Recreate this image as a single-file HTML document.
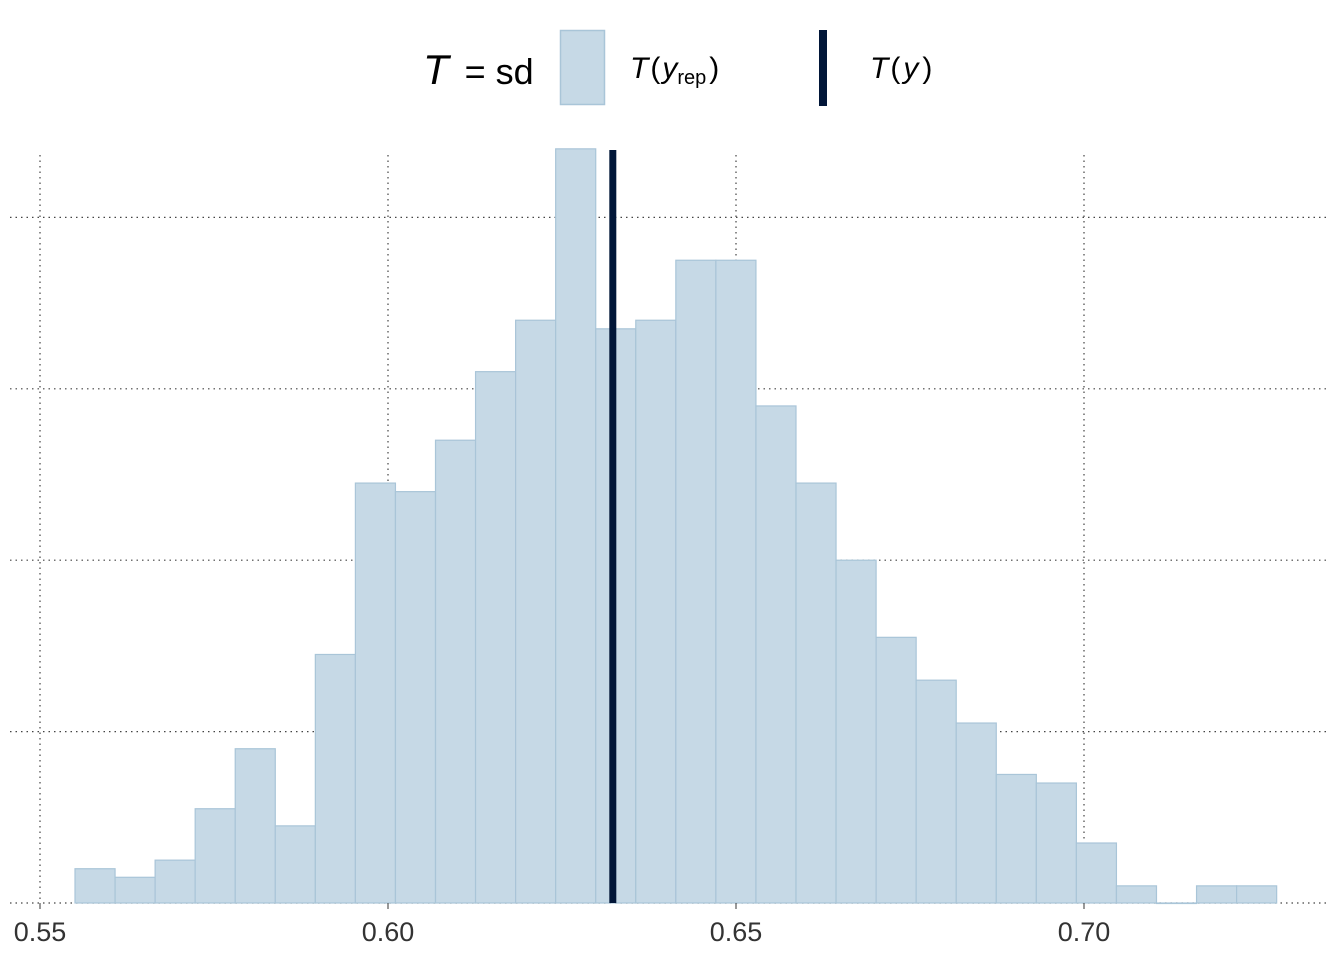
<!DOCTYPE html>
<html><head><meta charset="utf-8"><style>
html,body{margin:0;padding:0;background:#fff;}
svg{display:block;font-family:"Liberation Sans",Arial,sans-serif;}
</style></head><body>
<svg id="chart" width="1344" height="960">
  <g>
    <text x="423" y="84" font-size="42" fill="#000"><tspan font-style="italic">T</tspan><tspan font-size="36" dx="6"> = sd</tspan></text>
    <rect x="560.5" y="30.5" width="44" height="74" fill="#c6d9e6" stroke="#a9c5d8" stroke-width="1.5"/>
    <text x="630" y="78" font-size="30" fill="#000"><tspan font-style="italic">T</tspan><tspan dx="2">(</tspan><tspan font-style="italic" dx="2">y</tspan><tspan font-size="20" dy="6">rep</tspan><tspan dy="-6" dx="3">)</tspan></text>
    <rect x="819" y="30" width="8" height="76" fill="#011638"/>
    <text x="870" y="78" font-size="30" fill="#000"><tspan font-style="italic">T</tspan><tspan dx="2">(</tspan><tspan font-style="italic" dx="3">y</tspan><tspan dx="4">)</tspan></text>
  </g>
  <g id="grid"></g>
  <g id="bars"></g>
  <g id="xaxis"></g>
</svg>
<script>
const counts = [4,3,5,11,18,9,29,49,48,54,62,68,88,67,68,75,75,58,49,40,31,26,21,15,14,7,2,0,2,2];
const binStart = 0.55503;
const binWidth = 0.005755;
const statY = 0.6323;
const xTicks = [0.55,0.60,0.65,0.70];
const xTickLabels = ["0.55","0.60","0.65","0.70"];
const yGrid = [0,20,40,60,80];

const NS="http://www.w3.org/2000/svg";
const X = v => 40 + (v-0.55)*6960;
const Y = c => 903 - c*8.57;
function mk(tag, attrs, parent){const e=document.createElementNS(NS,tag);for(const k in attrs)e.setAttribute(k,attrs[k]);parent.appendChild(e);return e;}
const grid=document.getElementById('grid'), bars=document.getElementById('bars'), xa=document.getElementById('xaxis');

yGrid.forEach(g=>{
  const l=mk('line',{x1:10,x2:1330,y1:Y(g),y2:Y(g),stroke:'#444','stroke-width':1.2,'stroke-dasharray':'1.5,4'},grid);
  
  
});
xTicks.forEach((t,i)=>{
  const l=mk('line',{x1:X(t),x2:X(t),y1:155,y2:903,stroke:'#444','stroke-width':1.2,'stroke-dasharray':'1.5,4'},grid);
  
  
  const tk=mk('line',{x1:X(t),x2:X(t),y1:903,y2:909,stroke:'#333','stroke-width':1},xa);
  
  
  const tx=mk('text',{x:X(t),y:941,'text-anchor':'middle','font-size':27,fill:'#333'},xa);
  tx.textContent=xTickLabels[i];
  
  
});
counts.forEach((c,i)=>{
  const x0=X(binStart+i*binWidth), x1=X(binStart+(i+1)*binWidth);
  const r=mk('rect',{x:x0,y:Y(c),width:x1-x0,height:Math.max(903-Y(c),0.5),fill:'#c6d9e6',stroke:'#a9c5d8','stroke-width':1.2},bars);
  
  
});
const sl=mk('rect',{x:X(statY)-3.5,y:150,width:7,height:753,fill:'#011638'},bars);


</script>
</body></html>
